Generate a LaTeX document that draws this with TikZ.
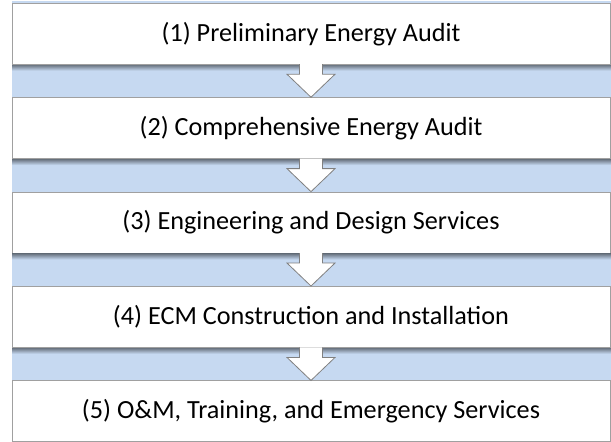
\documentclass[tikz,border=0pt]{standalone}
\usepackage{fontspec}
\setmainfont{Carlito}
\usetikzlibrary{calc}
\definecolor{band}{HTML}{C6D9F1}
\definecolor{edge}{HTML}{A0A0A0}

\begin{document}
\begin{tikzpicture}[x=1pt, y=1pt, node distance={94.4pt},
	stage/.style = {draw=edge, fill=white, line width=0.8pt, minimum width=598pt, minimum height=61pt, inner sep=0pt, font=\fontsize{26.2}{30}\selectfont},
	blockarrow/.style = {draw=gray, fill=white, line width=0.8pt, line join=miter}]
	\useasboundingbox (0,0) rectangle (611,442);
	\fill[band] (12,3) rectangle (611,441);
	\node[stage] at (311,408.25) (1) {(1) Preliminary Energy Audit};
	\node[stage] [below of=1] (2) {(2) Comprehensive Energy Audit};
	\node[stage] [below of=2] (3) {(3) Engineering and Design Services};
	\node[stage] [below of=3] (4) {(4) ECM Construction and Installation};
	\node[stage] [below of=4] (5) {(5) O\&M, Training, and Emergency Services};
	% shadow under each box
	\foreach \i in {1,...,4}
		\shade[top color=black!45!band, bottom color=band] ($(\i.south west)+(0.4,-0.4)$) rectangle ($(\i.south east)+(0.6,-6)$);
	\foreach \i/\j in {1/2,2/3,3/4,4/5}
		\draw[blockarrow] ($(\i.south)+(-11.5,0.4)$) -- ($(\j.north)+(-11.5,23)$) -- ($(\j.north)+(-24,23)$) -- (\j.north) -- ($(\j.north)+(24,23)$) -- ($(\j.north)+(11.5,23)$) -- ($(\i.south)+(11.5,0.4)$);
\end{tikzpicture}
\end{document}
